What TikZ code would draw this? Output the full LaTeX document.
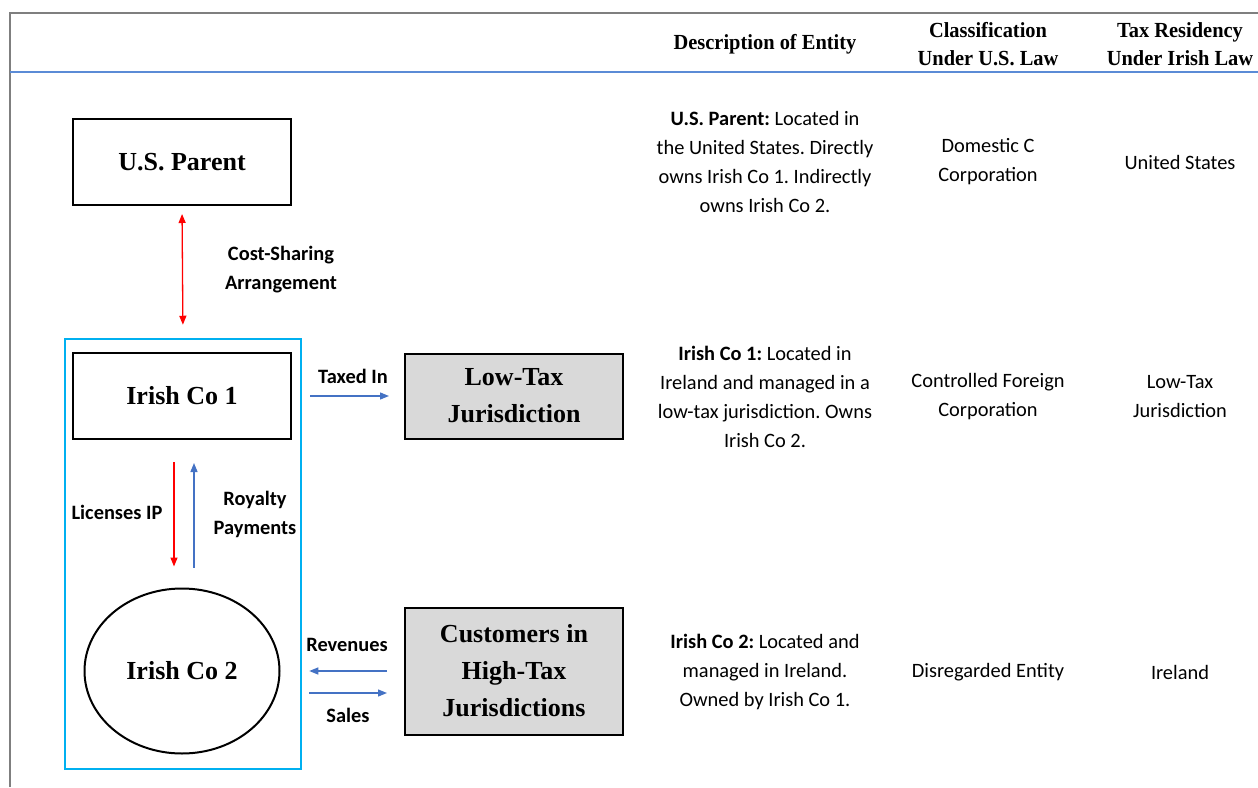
\documentclass[tikz,border=0pt]{standalone}
\usepackage{fontspec}
\setmainfont{Liberation Serif}
\setsansfont{Carlito}
\newfontfamily\headfont[FakeStretch=0.95]{Liberation Serif}
\usetikzlibrary{positioning,fit,calc,arrows.meta,shapes.geometric}
\frenchspacing

\definecolor{framegray}{HTML}{7F7F7F}
\definecolor{ruleblue}{HTML}{5B8BD6}
\definecolor{flowblue}{HTML}{4472C4}
\definecolor{groupcyan}{HTML}{00B0F0}
\definecolor{boxgray}{HTML}{D9D9D9}

\newcommand{\boxfont}{\bfseries\fontsize{26}{37}\selectfont}
\newcommand{\hdfont}{\headfont\bfseries\fontsize{21.5}{28}\selectfont}
\newcommand{\txtfont}{\sffamily\fontsize{20.4}{29}\selectfont}
\newcommand{\lblfont}{\sffamily\bfseries\fontsize{20.4}{29}\selectfont}

\tikzset{
  entbox/.style={draw, line width=2pt, minimum width=218pt, minimum height=86pt,
    inner sep=0pt, align=center, font=\boxfont},
  jurbox/.style={entbox, fill=boxgray},
  redflow/.style={red, line width=1.3pt, -{Triangle[length=9pt,width=7pt]}},
  redboth/.style={red, line width=1.3pt, {Triangle[length=9pt,width=7pt]}-{Triangle[length=9pt,width=7pt]}},
  blueflow/.style={flowblue, line width=1.3pt, -{Triangle[length=9pt,width=7pt]}},
  lbl/.style={align=center, font=\lblfont, inner sep=0pt},
  cell/.style={align=center, font=\txtfont, inner sep=0pt},
  head/.style={align=center, font=\hdfont, inner sep=0pt},
}

\begin{document}
\begin{tikzpicture}[x=1pt, y=-1pt]
  \useasboundingbox (0,0) rectangle (1258,787);

  % frame
  \draw[framegray, line width=2pt] (10,787) -- (10,13) -- (1258,13);
  \draw[ruleblue, line width=1.5pt] (10,72) -- (1258,72);

  % columns and rows
  \coordinate (colDesc) at (765,0);
  \coordinate (colClass) at (988,0);
  \coordinate (colRes) at (1180,0);
  \coordinate (rowUS) at (0,162);
  \coordinate (rowCo1) at (0,397);
  \coordinate (rowCo2) at (0,672);

  % headers
  \node[head] (hDesc) at ($(colDesc) + (0,44)$) {Description of Entity};
  \node[head] (hClass) at ($(colClass) + (0,44)$) {Classification\\Under U.S. Law};
  \node[head] (hRes) at ($(colRes) + (0,44)$) {Tax Residency\\Under Irish Law};

  % entities
  \node[entbox] (usp) at (182,162) {U.S. Parent};
  \node[entbox] (co1) at (182,396) {Irish Co 1};
  \node[draw, ellipse, line width=2pt, minimum width=195pt, minimum height=165pt,
    inner sep=0pt, font=\boxfont] (co2) at (182,671) {Irish Co 2};
  \node[draw=groupcyan, line width=2.5pt, minimum width=236pt, minimum height=430pt,
    inner sep=0pt] (grp) at (183,554) {};
  \node[jurbox, minimum height=85pt] (low) at (514,396) {Low-Tax\\Jurisdiction};
  \node[jurbox, minimum height=127pt] (cust) at (514,671) {Customers in\\High-Tax\\Jurisdictions};

  % flows
  \draw[redboth, shorten <=8pt, shorten >=13pt] (usp.south) -- (grp.north);
  \draw[redflow, shorten <=22pt, shorten >=21pt] ($(co1.south) + (-8,0)$) -- ($(co2.north) + (-8,0)$);
  \draw[blueflow, shorten <=20pt, shorten >=23pt] ($(co2.north) + (12,0)$) -- ($(co1.south) + (12,0)$);
  \draw[blueflow, shorten <=8pt, shorten >=15pt] (grp.east |- low.west) -- (low.west);
  \draw[blueflow, shorten <=17pt, shorten >=7pt] (cust.west) -- (grp.east |- cust.west);
  \draw[blueflow, shorten <=7pt, shorten >=17pt] ($(grp.east |- cust.west) + (0,22)$) -- ($(cust.west) + (0,22)$);

  \node[lbl] (lblCost) at (281,270) {Cost-Sharing\\Arrangement};
  \node[lbl] (lblLic) at (117,512) {Licenses IP};
  \node[lbl] (lblRoy) at (255,514) {Royalty\\Payments};
  \node[lbl] (lblTax) at (353,376) {Taxed In};
  \node[lbl] (lblRev) at (347,645) {Revenues};
  \node[lbl] (lblSal) at (348,715) {Sales};

  % table cells
  \node[cell] (dUS) at ($(colDesc |- rowUS)$) {\textbf{U.S. Parent:} Located in\\the United States. Directly\\owns Irish Co 1. Indirectly\\owns Irish Co 2.};
  \node[cell] (dCo1) at ($(colDesc |- rowCo1)$) {\textbf{Irish Co 1:} Located in\\Ireland and managed in a\\low-tax jurisdiction. Owns\\Irish Co 2.};
  \node[cell] (dCo2) at ($(colDesc |- rowCo2)$) {\textbf{Irish Co 2:} Located and\\managed in Ireland.\\Owned by Irish Co 1.};

  \node[cell] (cUS) at ($(colClass |- rowUS)$) {Domestic C\\Corporation};
  \node[cell] (cCo1) at ($(colClass |- rowCo1)$) {Controlled Foreign\\Corporation};
  \node[cell] (cCo2) at ($(colClass |- rowCo2)$) {Disregarded Entity};

  \node[cell] (rUS) at ($(colRes |- rowUS)$) {United States};
  \node[cell] (rCo1) at ($(colRes |- rowCo1)$) {Low-Tax\\Jurisdiction};
  \node[cell] (rCo2) at ($(colRes |- rowCo2)$) {Ireland};
\end{tikzpicture}
\end{document}
